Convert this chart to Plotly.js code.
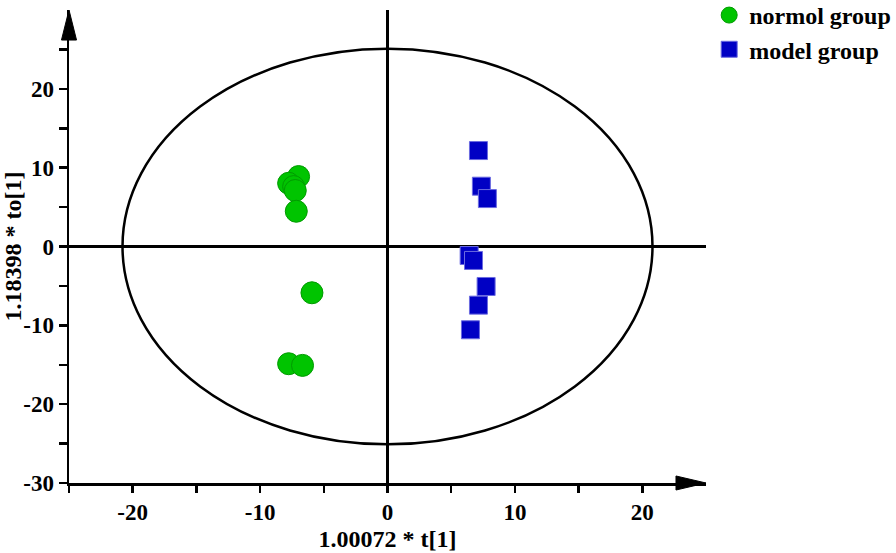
<!DOCTYPE html>
<html>
<head>
<meta charset="utf-8">
<script src="https://cdn.plot.ly/plotly-3.0.1.min.js"></script>
<style>
  html, body { margin: 0; padding: 0; background: #fff; }
  #chart { width: 896px; height: 553px; }
</style>
</head>
<body>
<div id="chart"></div>
<script>
  // OPLS-DA score plot values
  var normolX = [-6.98, -7.76, -7.37, -7.24, -7.16, -5.93, -7.76, -6.67];
  var normolY = [8.87, 8.02, 7.60, 7.10, 4.47, -5.87, -14.87, -15.08];
  var modelX = [7.14, 7.37, 7.84, 6.41, 6.75, 7.74, 7.14, 6.51];
  var modelY = [12.17, 7.65, 6.08, -1.14, -1.77, -5.07, -7.44, -10.56];

  var xTicks = [-25, -20, -15, -10, -5, 0, 5, 10, 15, 20];
  var xLabels = ['', '-20', '', '-10', '', '0', '', '10', '', '20'];
  var yTicks = [-30, -25, -20, -15, -10, -5, 0, 5, 10, 15, 20, 25];
  var yLabels = ['-30', '', '-20', '', '-10', '', '0', '', '10', '', '20', ''];

  // Hotelling T2 ellipse radii
  var ellipseRx = 20.8;
  var ellipseRy = 25.1;

  var serif = 'Liberation Serif, Times New Roman, serif';
  var tickFont = { family: serif, size: 23, color: '#000', weight: 'bold' };
  var titleFont = { family: serif, size: 24, color: '#000', weight: 'bold' };

  var trace1 = {
    x: normolX,
    y: normolY,
    name: 'normol group',
    mode: 'markers',
    type: 'scatter',
    marker: {
      symbol: 'circle',
      size: 22,
      color: '#00c400',
      line: { color: '#009a00', width: 1 }
    }
  };
  var trace2 = {
    x: modelX,
    y: modelY,
    name: 'model group',
    mode: 'markers',
    type: 'scatter',
    marker: {
      symbol: 'square',
      size: 18,
      color: '#0000c4',
      line: { color: '#6b6be0', width: 1 }
    }
  };

  var data = [trace1, trace2];
  var layout = {
    width: 896,
    height: 553,
    margin: { l: 69, r: 190, t: 10, b: 70, autoexpand: false },
    paper_bgcolor: '#fff',
    plot_bgcolor: '#fff',
    font: titleFont,
    showlegend: true,
    legend: {
      x: 1.005, xanchor: 'left', y: 1.036, yanchor: 'top',
      font: titleFont,
      itemsizing: 'trace',
      tracegroupgap: 0,
      bgcolor: 'rgba(0,0,0,0)'
    },
    xaxis: {
      range: [-25, 25],
      showgrid: false,
      zeroline: true, zerolinecolor: '#000', zerolinewidth: 2.5,
      showline: true, linecolor: '#000', linewidth: 2.5,
      ticks: 'outside', ticklen: 7, tickwidth: 2.5, tickcolor: '#000',
      tickmode: 'array', tickvals: xTicks, ticktext: xLabels,
      tickfont: tickFont,
      title: { text: '1.00072 * t[1]', font: titleFont, standoff: 6 },
      fixedrange: true
    },
    yaxis: {
      range: [-30, 30],
      showgrid: false,
      zeroline: true, zerolinecolor: '#000', zerolinewidth: 2.5,
      showline: true, linecolor: '#000', linewidth: 2.5,
      ticks: 'outside', ticklen: 8, tickwidth: 2.5, tickcolor: '#000',
      tickmode: 'array', tickvals: yTicks, ticktext: yLabels,
      tickfont: tickFont,
      title: { text: '1.18398 * to[1]', font: titleFont, standoff: 2 },
      fixedrange: true
    },
    shapes: [
      {
        type: 'circle', xref: 'x', yref: 'y',
        x0: -ellipseRx, x1: ellipseRx, y0: -ellipseRy, y1: ellipseRy,
        line: { color: '#000', width: 2.5 }
      },
      // arrow heads at the axis ends
      {
        type: 'path', xref: 'paper', yref: 'paper', layer: 'above',
        path: 'M -0.0118 0.9365 L 0.0118 0.9365 L 0 1 Z',
        fillcolor: '#000', line: { color: '#000', width: 1 }
      },
      {
        type: 'path', xref: 'paper', yref: 'paper', layer: 'above',
        path: 'M 0.9529 -0.0148 L 0.9529 0.0148 L 1 0 Z',
        fillcolor: '#000', line: { color: '#000', width: 1 }
      }
    ]
  };

  Plotly.newPlot('chart', data, layout, { displayModeBar: false, staticPlot: true });
</script>
</body>
</html>
